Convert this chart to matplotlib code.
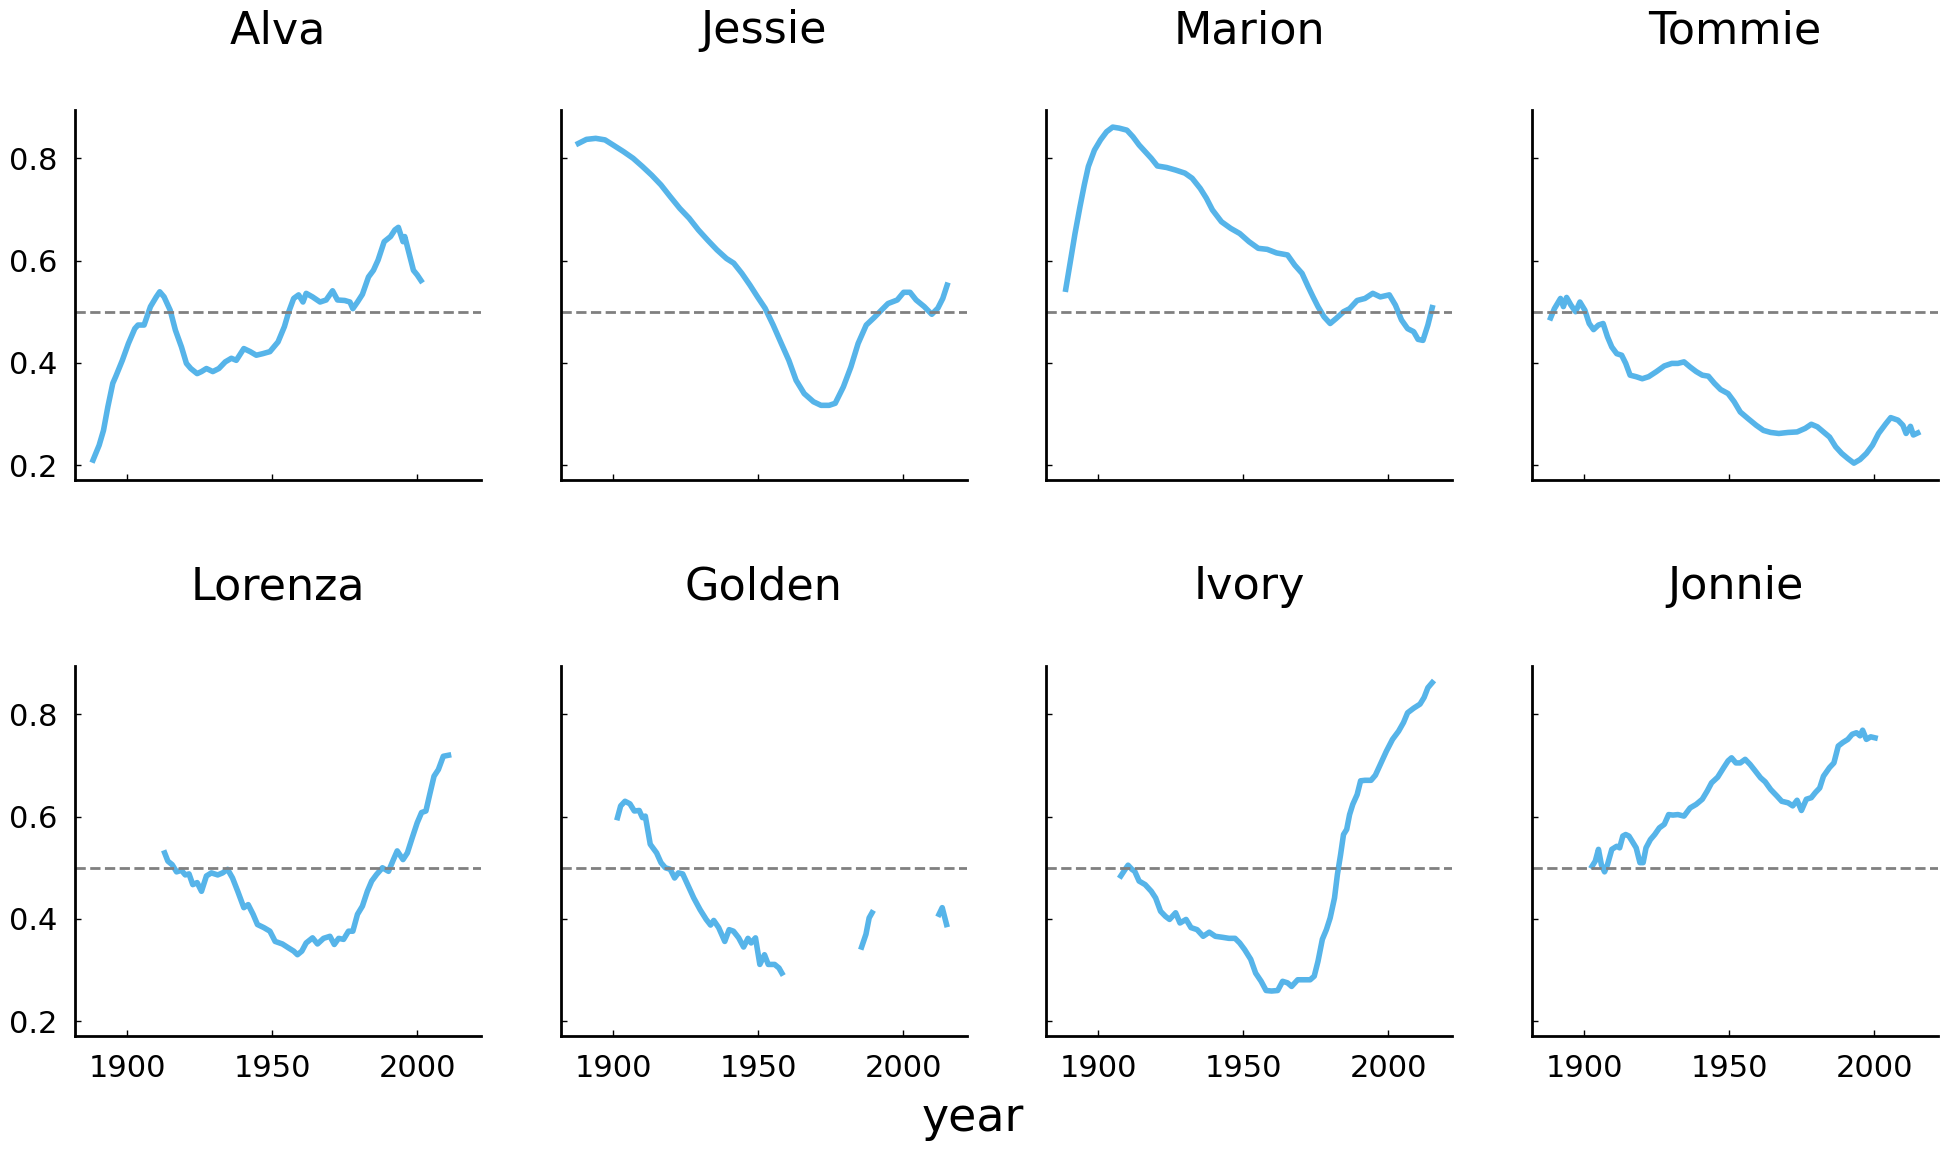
import numpy as np
import matplotlib
matplotlib.use("Agg")
import matplotlib.pyplot as plt

# 各名字每年作为女性名字的比例
names = ["Alva", "Jessie", "Marion", "Tommie", "Lorenza", "Golden", "Ivory", "Jonnie"]

alva_year = [1888.2, 1890.3, 1891.8, 1893.3, 1895, 1896, 1898.3, 1900.4, 1902.6, 1903.7, 1905.8, 1908, 1910,
             1911.2, 1912.7, 1914.8, 1916.6, 1918.7, 1920.4, 1921.9, 1924.1, 1925.6, 1927.3, 1929.5, 1931.6,
             1933.8, 1935.9, 1937.6, 1940.2, 1942.4, 1944.5, 1946.7, 1949.2, 1952, 1954.2, 1955.7, 1957.4,
             1959.1, 1960.6, 1961.7, 1963.9, 1966.5, 1968.6, 1970.8, 1972.5, 1975, 1976.8, 1977.8, 1979.4,
             1981.1, 1983.2, 1984.9, 1986.5, 1988.6, 1990.8, 1992.3, 1993.5, 1995.1, 1995.7, 1997.2, 1998.7,
             2000, 2001.3]
alva_frac = [0.210, 0.239, 0.268, 0.314, 0.360, 0.373, 0.405, 0.438, 0.467, 0.474, 0.474, 0.510, 0.529,
             0.539, 0.529, 0.503, 0.464, 0.431, 0.399, 0.389, 0.379, 0.383, 0.389, 0.383, 0.389,
             0.402, 0.409, 0.405, 0.428, 0.422, 0.415, 0.418, 0.422, 0.441, 0.471, 0.500, 0.526,
             0.533, 0.519, 0.536, 0.529, 0.519, 0.523, 0.541, 0.523, 0.522, 0.519, 0.506, 0.519,
             0.534, 0.568, 0.581, 0.601, 0.637, 0.647, 0.660, 0.665, 0.637, 0.647, 0.614, 0.581,
             0.572, 0.561]

jessie_year = [1888, 1890.8, 1894, 1897.2, 1900, 1903.6, 1906.9, 1910.1, 1913.3, 1916.5, 1919.7, 1923, 1926.2,
               1929.4, 1932.6, 1935.8, 1939.1, 1941.6, 1944.4, 1947.2, 1949.8, 1952.4, 1955.2, 1958, 1960.6,
               1963.1, 1965.9, 1969.1, 1971.7, 1974.5, 1976.6, 1979.4, 1982, 1984.5, 1987.3, 1990.1, 1992.7,
               1994.8, 1998, 2000.2, 2002.4, 2004.5, 2007.3, 2009.9, 2012, 2013.7, 2015.2]
jessie_frac = [0.829, 0.837, 0.839, 0.836, 0.826, 0.813, 0.800, 0.784, 0.767, 0.748, 0.725, 0.702, 0.683,
               0.660, 0.640, 0.621, 0.604, 0.595, 0.575, 0.552, 0.529, 0.507, 0.474, 0.438, 0.405,
               0.366, 0.340, 0.324, 0.317, 0.317, 0.321, 0.353, 0.392, 0.438, 0.474, 0.489, 0.504,
               0.516, 0.523, 0.538, 0.538, 0.523, 0.510, 0.495, 0.507, 0.526, 0.552]

marion_year = [1888.8, 1890.3, 1892, 1893.7, 1895.2, 1896.6, 1898.7, 1900.8, 1902.9, 1905, 1907.2, 1909.9,
               1912, 1914.1, 1916.2, 1918.3, 1920.4, 1923.6, 1926.7, 1929.9, 1932.4, 1935.2, 1937.3, 1939.4,
               1942.5, 1945.7, 1948.8, 1952, 1955.2, 1958.3, 1961.5, 1965.3, 1967.8, 1970.3, 1972.4, 1974.1,
               1975.8, 1977.9, 1980, 1982.1, 1984.6, 1986.7, 1989.3, 1992, 1994.7, 1997.3, 2000.4, 2002.5,
               2004.6, 2006.7, 2008.8, 2010.3, 2012, 2013.7, 2015.2]
marion_frac = [0.544, 0.595, 0.653, 0.705, 0.748, 0.784, 0.816, 0.836, 0.852, 0.861, 0.859, 0.855,
               0.842, 0.826, 0.813, 0.800, 0.785, 0.782, 0.777, 0.771, 0.761, 0.741, 0.722, 0.699,
               0.676, 0.663, 0.653, 0.637, 0.624, 0.622, 0.615, 0.611, 0.591, 0.575, 0.549, 0.529,
               0.510, 0.490, 0.477, 0.487, 0.500, 0.506, 0.522, 0.526, 0.536, 0.529, 0.533, 0.513,
               0.484, 0.467, 0.461, 0.446, 0.444, 0.474, 0.508]

tommie_year = [1888.4, 1889.7, 1891.8, 1892.8, 1893.9, 1895.4, 1897, 1898.5, 1900.2, 1901.7, 1903.2, 1904.9,
               1906.5, 1908, 1909.5, 1911.2, 1912.9, 1914.3, 1915.8, 1917.9, 1920, 1922.2, 1924.9, 1927.6,
               1930.2, 1932.3, 1934.4, 1936.5, 1938.6, 1940.7, 1942.8, 1944.9, 1947, 1949.6, 1951.7, 1953.8,
               1956.5, 1959.3, 1961.8, 1964.3, 1967.1, 1970.3, 1973.4, 1976.2, 1978.3, 1980.4, 1982.5, 1984.6,
               1986.7, 1988.8, 1990.9, 1993, 1995.1, 1997.3, 1999.4, 2001.5, 2004, 2005.7, 2008.2, 2009.9,
               2011, 2012.5, 2013.5, 2015]
tommie_frac = [0.488, 0.506, 0.526, 0.510, 0.528, 0.513, 0.500, 0.519, 0.503, 0.477, 0.465, 0.474,
               0.477, 0.451, 0.431, 0.418, 0.415, 0.399, 0.376, 0.373, 0.369, 0.373, 0.383, 0.394,
               0.399, 0.399, 0.402, 0.392, 0.383, 0.376, 0.374, 0.360, 0.348, 0.340, 0.324, 0.304,
               0.291, 0.278, 0.268, 0.264, 0.262, 0.264, 0.265, 0.272, 0.280, 0.275, 0.265, 0.255,
               0.236, 0.223, 0.213, 0.204, 0.211, 0.223, 0.239, 0.262, 0.281, 0.293, 0.288, 0.278,
               0.262, 0.276, 0.259, 0.263]

lorenza_year = [1912.9, 1914, 1915.5, 1917, 1918.7, 1920, 1921.3, 1922.6, 1924.1, 1925.6, 1927.3, 1929,
                1931.2, 1932.9, 1934.6, 1936.3, 1938.1, 1940.2, 1941.7, 1943.4, 1944.9, 1947.1, 1949.2, 1951,
                1953.5, 1955.7, 1957.4, 1958.7, 1960.2, 1961.7, 1963.9, 1965.6, 1967.7, 1969.9, 1971.4, 1972.9,
                1974.6, 1976.3, 1977.8, 1979.4, 1981.1, 1982.8, 1984.3, 1986, 1988, 1990.1, 1991.8, 1993.1,
                1995.1, 1996.6, 1998.3, 2000, 2001.5, 2003, 2004.3, 2005.8, 2007.3, 2009, 2010.8]
lorenza_frac = [0.529, 0.513, 0.506, 0.492, 0.495, 0.486, 0.488, 0.467, 0.471, 0.454, 0.484, 0.490,
                0.486, 0.490, 0.497, 0.480, 0.454, 0.422, 0.428, 0.409, 0.389, 0.383, 0.376, 0.356,
                0.351, 0.343, 0.337, 0.330, 0.337, 0.353, 0.363, 0.351, 0.362, 0.366, 0.350, 0.362,
                0.360, 0.376, 0.376, 0.409, 0.425, 0.454, 0.474, 0.487, 0.500, 0.493, 0.516, 0.533,
                0.516, 0.529, 0.559, 0.588, 0.608, 0.611, 0.643, 0.679, 0.692, 0.718, 0.720]

# Golden 有缺失年份，用 nan 断开
golden_year = [1901.5, 1902.6, 1904.1, 1905.8, 1907.3, 1909, 1910.1, 1911.1, 1912.8, 1915, 1916.5, 1918,
               1919.7, 1921.2, 1922.5, 1924, 1925.7, 1927.8, 1930, 1932.1, 1933.6, 1934.7, 1936.4, 1938.5,
               1940, 1941.5, 1943.3, 1945, 1946.5, 1947.6, 1949.1, 1950.6, 1952.2, 1953.5, 1955.7, 1957.2,
               1958.2, 1972,
               1985.7, 1987.2, 1988.3, 1989.3, 2000,
               2012.4, 2013.5, 2015]
golden_frac = [0.598, 0.621, 0.630, 0.625, 0.611, 0.612, 0.598, 0.601, 0.546, 0.529, 0.510, 0.500,
               0.497, 0.480, 0.490, 0.488, 0.467, 0.441, 0.418, 0.399, 0.388, 0.397, 0.383, 0.356,
               0.379, 0.376, 0.363, 0.345, 0.362, 0.353, 0.363, 0.311, 0.330, 0.311, 0.311, 0.304,
               0.294, np.nan,
               0.345, 0.370, 0.402, 0.412, np.nan,
               0.409, 0.422, 0.389]

ivory_year = [1907.8, 1909.3, 1910.3, 1911.6, 1912.6, 1914.1, 1916.2, 1918.3, 1919.8, 1921.5, 1923.2, 1924.6,
              1926.7, 1928.2, 1930.3, 1932, 1934.1, 1936.2, 1938.3, 1940.4, 1942.9, 1945.1, 1947.2, 1948.8,
              1950.5, 1952.6, 1954.3, 1956.2, 1957.9, 1959.8, 1961.9, 1963.6, 1965.3, 1966.7, 1968.8, 1970.9,
              1973.1, 1974.5, 1975.8, 1977.3, 1978.7, 1980, 1981.5, 1982.5, 1983.6, 1984.6, 1985.7, 1986.7,
              1987.8, 1989.3, 1990.5, 1992, 1994.1, 1995.6, 1997.3, 1999.4, 2001.5, 2003.6, 2005.3, 2006.7,
              2008.8, 2011, 2012.4, 2013.7, 2015.2]
ivory_frac = [0.484, 0.497, 0.505, 0.497, 0.493, 0.474, 0.467, 0.454, 0.441, 0.415, 0.405, 0.399,
              0.412, 0.392, 0.399, 0.383, 0.379, 0.366, 0.374, 0.366, 0.364, 0.362, 0.362, 0.353,
              0.340, 0.321, 0.294, 0.278, 0.260, 0.259, 0.260, 0.278, 0.275, 0.268, 0.281, 0.281,
              0.281, 0.288, 0.317, 0.360, 0.379, 0.402, 0.441, 0.487, 0.526, 0.565, 0.575, 0.604,
              0.624, 0.643, 0.670, 0.671, 0.671, 0.681, 0.702, 0.728, 0.751, 0.767, 0.784, 0.803,
              0.812, 0.820, 0.833, 0.852, 0.862]

jonnie_year = [1902.7, 1903.8, 1904.9, 1905.9, 1907, 1908, 1909.5, 1911.2, 1912.2, 1913.3, 1914.3, 1915.4,
               1916.5, 1917.9, 1919.2, 1920.3, 1921.3, 1922.8, 1924.3, 1925.9, 1927.6, 1929.1, 1930.6, 1932.3,
               1934.4, 1936.5, 1938.6, 1940.7, 1942.4, 1943.9, 1946, 1948.1, 1949.6, 1950.8, 1952.3, 1953.8,
               1955.5, 1957.2, 1958.6, 1960.8, 1962.4, 1964.3, 1966.5, 1968.1, 1970.3, 1971.9, 1973.4, 1974.9,
               1976.6, 1978.3, 1979.7, 1981.2, 1982.5, 1984.6, 1986.1, 1987.6, 1989.2, 1990.9, 1992.4, 1993.9,
               1995.1, 1996, 1997.3, 1998.8, 2000.3]
jonnie_frac = [0.503, 0.513, 0.536, 0.506, 0.492, 0.506, 0.536, 0.542, 0.539, 0.562, 0.565, 0.562,
               0.552, 0.539, 0.510, 0.510, 0.539, 0.555, 0.565, 0.578, 0.585, 0.604, 0.603, 0.604,
               0.601, 0.617, 0.624, 0.634, 0.650, 0.666, 0.677, 0.696, 0.709, 0.715, 0.705, 0.705,
               0.712, 0.702, 0.692, 0.676, 0.668, 0.653, 0.640, 0.630, 0.627, 0.621, 0.632, 0.612,
               0.634, 0.637, 0.647, 0.656, 0.679, 0.696, 0.705, 0.738, 0.745, 0.751, 0.761, 0.764,
               0.758, 0.769, 0.751, 0.756, 0.754]

years = [alva_year, jessie_year, marion_year, tommie_year, lorenza_year, golden_year, ivory_year, jonnie_year]
fracs = [alva_frac, jessie_frac, marion_frac, tommie_frac, lorenza_frac, golden_frac, ivory_frac, jonnie_frac]

line_color = "#56B4E9"

fig = plt.figure(figsize=(9.725, 5.75), dpi=200)

# 子图位置（图像坐标比例）
lefts = [0.0386, 0.2884, 0.5378, 0.7877]
bottoms = [0.5826, 0.0991]
w, h = 0.2087, 0.322

for i, name in enumerate(names):
    r, c = divmod(i, 4)
    ax = fig.add_axes([lefts[c], bottoms[r], w, h])
    ax.plot(years[i], fracs[i], color=line_color, lw=2.0)
    ax.axhline(0.5, color="gray", ls="--", lw=1.0)
    ax.set_xlim(1882, 2022)
    ax.set_ylim(0.171, 0.895)
    ax.set_xticks([1900, 1950, 2000])
    ax.set_yticks([0.2, 0.4, 0.6, 0.8])
    ax.spines["top"].set_visible(False)
    ax.spines["right"].set_visible(False)
    ax.spines["left"].set_linewidth(1.0)
    ax.spines["bottom"].set_linewidth(1.0)
    ax.tick_params(direction="in", length=2.2, width=0.5, labelsize=11, pad=6.5)
    if c != 0:
        ax.tick_params(labelleft=False)
    if r == 0:
        ax.tick_params(labelbottom=False)
    ax.set_title(name, fontsize=16, pad=24)

fig.text(0.5, 0.0165, "year", ha="center", va="baseline", fontsize=16.5)

fig.savefig("out.png", dpi=200)
